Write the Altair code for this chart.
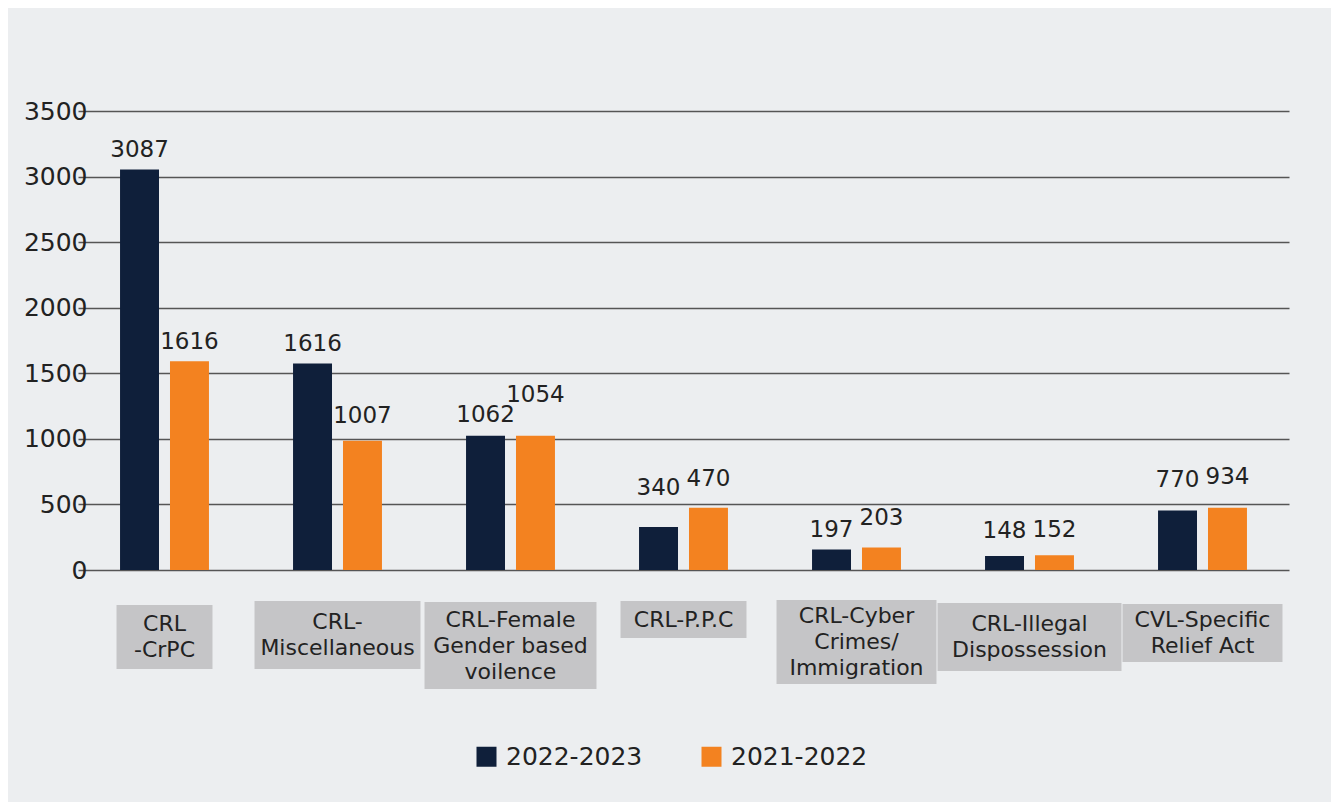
import altair as alt
import pandas as pd

# ---------------- data ----------------
categories = [
    "CRL -CrPC",
    "CRL-Miscellaneous",
    "CRL-Female Gender based voilence",
    "CRL-P.P.C",
    "CRL-Cyber Crimes/ Immigration",
    "CRL-Illegal Dispossession",
    "CVL-Specific Relief Act",
]
category_lines = [
    "CRL\n-CrPC",
    "CRL-\nMiscellaneous",
    "CRL-Female\nGender based\nvoilence",
    "CRL-P.P.C",
    "CRL-Cyber\nCrimes/\nImmigration",
    "CRL-Illegal\nDispossession",
    "CVL-Specific\nRelief Act",
]
series = ["2022-2023", "2021-2022"]
# bar heights as drawn
bars_2022_2023 = [3054, 1575, 1023, 328, 157, 106, 453]
bars_2021_2022 = [1591, 985, 1023, 475, 172, 113, 475]
# numbers printed above the bars
labels_2022_2023 = [3087, 1616, 1062, 340, 197, 148, 770]
labels_2021_2022 = [1616, 1007, 1054, 470, 203, 152, 934]
y_ticks = [0, 500, 1000, 1500, 2000, 2500, 3000, 3500]

# ---------------- layout / style (not data) ----------------
PLOT_W, PLOT_H = 1202, 459
PLOT_TOP = 111
Y_MAX = 3500
# pixel gap between a bar's top and its value label
gap_2022_2023 = [12, 12, 14, 32, 12, 18, 24]
gap_2021_2022 = [12, 18, 34, 22, 22, 18, 24]
box_width = [96, 166, 172, 126, 160, 184, 160]
box_top = [605, 601, 602, 601, 600, 603, 604]
box_bottom = [669, 669, 689, 638, 684, 671, 662]
LINE_H = 26
FONT = "DejaVu Sans"
DARK = "#0f1f3a"
ORANGE = "#f38220"
BG = "#eceef0"
BOX = "#c5c5c7"
TXT = "#222222"

rows = []
for i, c in enumerate(categories):
    rows.append({"category": c, "series": series[0], "bar": bars_2022_2023[i],
                 "label": labels_2022_2023[i], "gap": gap_2022_2023[i]})
    rows.append({"category": c, "series": series[1], "bar": bars_2021_2022[i],
                 "label": labels_2021_2022[i], "gap": gap_2021_2022[i]})
df = pd.DataFrame(rows)
cat_df = pd.DataFrame({"category": categories, "lines": category_lines})

x_enc = alt.X(
    "category:N",
    sort=categories,
    scale=alt.Scale(range=[-42, 1169], paddingInner=0.486, paddingOuter=0.243),
    axis=alt.Axis(labels=False, title=None, domain=False, ticks=True, tickSize=35,
                  tickColor="#666666", tickWidth=1.5, grid=False),
)
x_plain = alt.X("category:N", sort=categories, axis=None)
xoff = alt.XOffset("series:N", sort=series, scale=alt.Scale(paddingInner=0.22, paddingOuter=0))

bars = alt.Chart(df).mark_bar().encode(
    x=x_enc,
    xOffset=xoff,
    y=alt.Y(
        "bar:Q",
        scale=alt.Scale(domain=[0, Y_MAX]),
        axis=alt.Axis(values=y_ticks, format="d", title=None, domain=False, ticks=False,
                      labelPadding=33, labelFontSize=25, labelFont=FONT, labelColor=TXT,
                      grid=True, gridColor="#555555", gridWidth=1.5),
    ),
    color=alt.Color(
        "series:N",
        sort=series,
        scale=alt.Scale(domain=series, range=[DARK, ORANGE]),
        legend=alt.Legend(orient="none", legendX=354, legendY=633, direction="horizontal",
                          title=None, symbolType="square", symbolSize=400, symbolStrokeWidth=0,
                          symbolOpacity=1, labelFontSize=25, labelFont=FONT, labelColor=TXT,
                          columnPadding=56, labelOffset=7),
    ),
)

values = alt.Chart(df).transform_calculate(
    label_y=f"datum.bar + datum.gap * {Y_MAX} / {PLOT_H}"
).mark_text(
    fontSize=23, font=FONT, color=TXT, baseline="alphabetic"
).encode(
    x=x_plain,
    xOffset=xoff,
    y=alt.Y("label_y:Q"),
    text=alt.Text("label:N"),
)

box_layers = []
for i, c in enumerate(categories):
    base = alt.Chart(cat_df).transform_filter(alt.FieldEqualPredicate(field="category", equal=c))
    n_lines = category_lines[i].count("\n") + 1
    mid = (box_top[i] + box_bottom[i]) / 2 - PLOT_TOP
    first_line_y = mid - (n_lines - 1) * LINE_H / 2
    box_layers.append(
        base.mark_bar(width=box_width[i], color=BOX).encode(
            x=x_plain,
            y=alt.value(box_top[i] - PLOT_TOP),
            y2=alt.value(box_bottom[i] - PLOT_TOP),
        )
    )
    box_layers.append(
        base.mark_text(fontSize=22, font=FONT, color=TXT, lineBreak="\n", lineHeight=LINE_H,
                       baseline="middle", align="center").encode(
            x=x_plain,
            y=alt.value(first_line_y),
            text="lines:N",
        )
    )

chart = alt.layer(bars, values, *box_layers).properties(
    width=PLOT_W,
    height=PLOT_H,
    background=BG,
    autosize=alt.AutoSizeParams(type="none"),
    padding={"left": 112, "top": PLOT_TOP - 8, "right": 9, "bottom": 232},
).configure_view(strokeWidth=0)

chart.save("out.html", embed_options={"renderer": "svg", "actions": False})
